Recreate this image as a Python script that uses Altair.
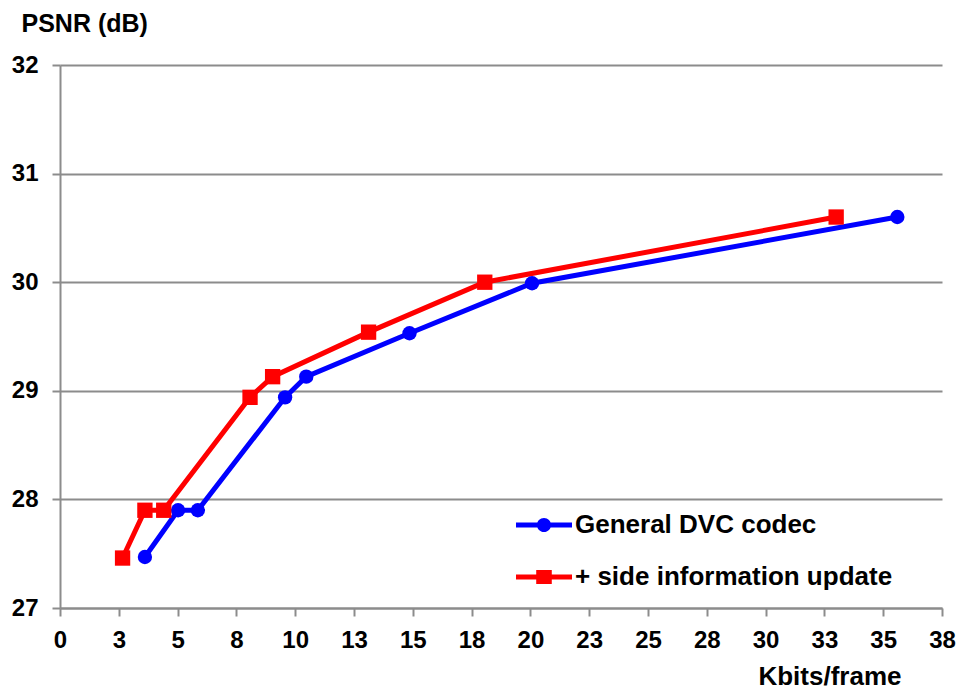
import altair as alt
import pandas as pd

# ---- data ----
series_names = ["General DVC codec", "+ side information update"]
series_colors = ["#0000FF", "#FF0000"]
series_shapes = ["circle", "square"]
series_sizes = [206, 235]

kbits_general = [3.61, 5.02, 5.86, 9.57, 10.47, 14.86, 20.07, 35.6]
psnr_general = [27.47, 27.90, 27.90, 28.94, 29.13, 29.53, 29.99, 30.60]
kbits_update = [2.66, 3.61, 4.41, 8.08, 9.04, 13.12, 18.06, 33.0]
psnr_update = [27.46, 27.90, 27.90, 28.94, 29.13, 29.54, 30.00, 30.60]

x_tick_values = [0, 2.5, 5, 7.5, 10, 12.5, 15, 17.5, 20, 22.5, 25, 27.5, 30, 32.5, 35, 37.5]
x_tick_labels = ["0", "3", "5", "8", "10", "13", "15", "18", "20", "23", "25", "28", "30", "33", "35", "38"]
y_tick_values = [27, 28, 29, 30, 31, 32]
x_title = "Kbits/frame"
y_title = "PSNR (dB)"

rows = []
for name, xs, ys in [(series_names[0], kbits_general, psnr_general),
                     (series_names[1], kbits_update, psnr_update)]:
    for i, (xv, yv) in enumerate(zip(xs, ys)):
        rows.append({"series": name, "kbits": xv, "psnr": yv, "idx": i})
df = pd.DataFrame(rows)

FONT = "Liberation Sans"
GRAY = "#8c8c8c"

label_expr = ("[" + ",".join(f"'{l}'" for l in x_tick_labels) + "][indexof(["
              + ",".join(str(v) for v in x_tick_values) + "], datum.value)]")

# legend symbols: line segment + marker (custom SVG paths)
circ_path = ("M-3.96,-0.36H-0.9V0.36H-3.96Z M0.9,-0.36H3.96V0.36H0.9Z "
             "M-1,0A1,1 0 1,1 1,0A1,1 0 1,1 -1,0Z")
sq_path = ("M-3.96,-0.36H-1.1V0.36H-3.96Z M1.1,-0.36H3.96V0.36H1.1Z "
           "M-1.1,-1H1.1V1H-1.1Z")

legend_props = dict(
    title=None, orient="none", legendX=471, legendY=447, padding=0,
    labelFont=FONT, labelFontSize=26, labelFontWeight="bold", labelColor="black",
    labelLimit=500,
    symbolSize=200, symbolStrokeWidth=0, symbolOpacity=1, labelOffset=18, rowPadding=26,
)

x_enc = alt.X("kbits:Q",
              scale=alt.Scale(domain=[0, 37.5], nice=False, zero=False),
              axis=alt.Axis(values=x_tick_values, labelExpr=label_expr, title=x_title,
                            grid=False, titleX=841, titleY=76, titleAlign="right",
                            titleBaseline="alphabetic", labelPadding=12, labelFlush=False))
y_enc = alt.Y("psnr:Q",
              scale=alt.Scale(domain=[27, 32], nice=False, zero=False),
              axis=alt.Axis(values=y_tick_values, format="d", title=y_title,
                            titleAngle=0, titleX=-39, titleY=-34, titleAlign="left",
                            titleBaseline="alphabetic", titleFontSize=25, grid=True,
                            labelPadding=14, labelFlush=False))
color_scale = alt.Scale(domain=series_names, range=series_colors)

lines = alt.Chart(df).mark_line(strokeWidth=5).encode(
    x=x_enc, y=y_enc,
    color=alt.Color("series:N", scale=color_scale, legend=None),
    order="idx:Q")

points = alt.Chart(df).mark_point(filled=True, opacity=1).encode(
    x=x_enc, y=y_enc,
    color=alt.Color("series:N", scale=color_scale, legend=None),
    shape=alt.Shape("series:N", scale=alt.Scale(domain=series_names, range=series_shapes), legend=None),
    size=alt.Size("series:N", scale=alt.Scale(domain=series_names, range=series_sizes), legend=None),
)

legend_layer = alt.Chart(df).mark_point(filled=True, opacity=0).encode(
    x=x_enc, y=y_enc,
    color=alt.Color("series:N", scale=color_scale, legend=alt.Legend(**legend_props)),
    shape=alt.Shape("series:N", scale=alt.Scale(domain=series_names, range=[circ_path, sq_path]),
                    legend=alt.Legend(**legend_props)),
)

chart = alt.layer(lines, points, legend_layer).resolve_scale(
    color="independent", shape="independent"
).properties(
    width=882, height=543,
    autosize=alt.AutoSizeParams(type="none"),
    padding={"left": 52, "top": 57, "right": 14, "bottom": 85},
    background="white",
).configure_axis(
    labelFont=FONT, labelFontSize=24, labelFontWeight="bold", labelColor="black",
    titleFont=FONT, titleFontSize=26, titleFontWeight="bold", titleColor="black",
    domainColor=GRAY, domainWidth=2, tickColor=GRAY, tickWidth=2, tickSize=8,
    gridColor=GRAY, gridWidth=2,
).configure_view(strokeWidth=0)

chart.save("out.html", embed_options={"renderer": "svg", "actions": False})
